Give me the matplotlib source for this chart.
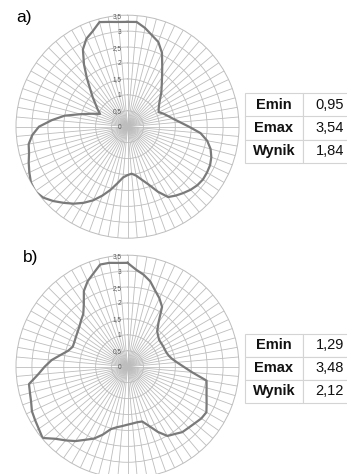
import numpy as np
import matplotlib
matplotlib.use("Agg")
import matplotlib.pyplot as plt
from matplotlib.transforms import offset_copy

plt.rcParams['font.family'] = ['Liberation Sans', 'DejaVu Sans']

# ---- data -------------------------------------------------------------
# category angles (degrees, clockwise from top), 72 categories
categories = list(range(0, 360, 5))

values_a = [3.29, 3.30, 3.15, 2.97, 2.83, 2.56, 2.18, 1.89, 1.67, 1.50,
            1.33, 1.21, 1.13, 1.08, 1.20, 1.31, 1.45, 1.65, 1.93, 2.30,
            2.54, 2.70, 2.80, 2.86, 2.88, 2.89, 2.86, 2.80, 2.72, 2.64,
            2.55, 2.25, 1.93, 1.72, 1.56, 1.48, 1.52, 1.60, 1.80, 2.05,
            2.30, 2.55, 2.76, 2.95, 3.12, 3.30, 3.46, 3.54, 3.50, 3.40,
            3.30, 3.20, 3.15, 3.00, 2.78, 2.38, 2.00, 1.52, 1.19, 0.95,
            1.08, 1.22, 1.42, 1.65, 1.98, 2.38, 2.80, 3.05, 3.19, 3.40,
            3.34, 3.30]

values_b = [3.26, 3.06, 2.93, 2.77, 2.54, 2.37, 2.17, 1.70, 1.45, 1.36,
            1.30, 1.29, 1.29, 1.29, 1.30, 1.34, 1.42, 1.56, 1.76, 2.04,
            2.52, 2.57, 2.64, 2.74, 2.86, 2.83, 2.76, 2.71, 2.68, 2.58,
            2.51, 2.26, 1.98, 1.78, 1.77, 1.79, 1.82, 1.87, 1.93, 2.03,
            2.27, 2.49, 2.65, 2.85, 3.02, 3.20, 3.48, 3.40, 3.35, 3.31,
            3.22, 3.17, 3.14, 2.82, 2.60, 2.39, 2.13, 1.93, 1.83, 1.84,
            1.87, 1.91, 1.97, 2.06, 2.16, 2.39, 2.74, 2.96, 3.12, 3.32,
            3.31, 3.27]

ring_values = [0, 0.5, 1, 1.5, 2, 2.5, 3, 3.5]
ring_labels = ["0", "0,5", "1", "1,5", "2", "2,5", "3", "3,5"]

table_names = ["Emin", "Emax", "Wynik"]
table_a = ["0,95", "3,54", "1,84"]
table_b = ["1,29", "3,48", "2,12"]
panel_labels = ["a)", "b)"]

# ---- figure -----------------------------------------------------------
W, H = 347, 474
fig = plt.figure(figsize=(W / 100, H / 100), dpi=100)
fig.patch.set_facecolor('white')

GRID = '#bdbdbd'
LINE = '#7a7a7a'


def radar(cx, cy, rad, values):
    ax = fig.add_axes([(cx - rad) / W, 1 - (cy + rad) / H, 2 * rad / W, 2 * rad / H],
                      projection='polar')
    ax.set_theta_zero_location('N')
    ax.set_theta_direction(-1)
    ax.set_ylim(0, 3.5)
    ax.set_xticks(np.deg2rad(categories))
    ax.set_xticklabels([])
    ax.set_yticks(ring_values[1:-1])
    ax.set_yticklabels([])
    ax.tick_params(length=0, pad=0)
    ax.grid(True, color=GRID, lw=0.6)
    ax.spines['polar'].set_color(GRID)
    ax.spines['polar'].set_linewidth(0.7)
    ax.set_facecolor('white')
    th = np.deg2rad(categories + [categories[0]])
    rr = values + [values[0]]
    ax.plot(th, rr, color=LINE, lw=1.6, solid_joinstyle='round', zorder=5)
    tr = offset_copy(ax.transData, fig=fig, x=-6, y=-1, units='dots')
    for rv, lab in zip(ring_values, ring_labels):
        ax.text(0, rv, lab, transform=tr, ha='right', va='center',
                fontsize=4.7, color='#5a5a5a', zorder=6)
    return ax


def table(x0, y0, y1, cells):
    x1 = 357
    tax = fig.add_axes([x0 / W, 1 - y1 / H, (x1 - x0) / W, (y1 - y0) / H])
    tax.axis('off')
    rows = [[n, v] for n, v in zip(table_names, cells)]
    tbl = tax.table(cellText=rows, bbox=[0, 0, 1, 1], cellLoc='center',
                    colWidths=[57.7, x1 - x0 - 57.7])
    tbl.auto_set_font_size(False)
    for (r, c), cell in tbl.get_celld().items():
        cell.set_edgecolor('#d4d4d4')
        cell.set_linewidth(0.8)
        t = cell.get_text()
        t.set_fontsize(10.5)
        t.set_color('#111111')
        if c == 0:
            t.set_fontweight('bold')


radar(127.5, 126.7, 111.5, values_a)
radar(127.5, 366.7, 111.5, values_b)

table(245, 93.5, 162.5, table_a)
table(245, 333.8, 403, table_b)

fig.text(16.5 / W, 1 - 17.5 / H, panel_labels[0], fontsize=12.5, ha='left', va='center')
fig.text(22.5 / W, 1 - 257.5 / H, panel_labels[1], fontsize=12.5, ha='left', va='center')

fig.savefig('out.png', dpi=100, facecolor='white')
